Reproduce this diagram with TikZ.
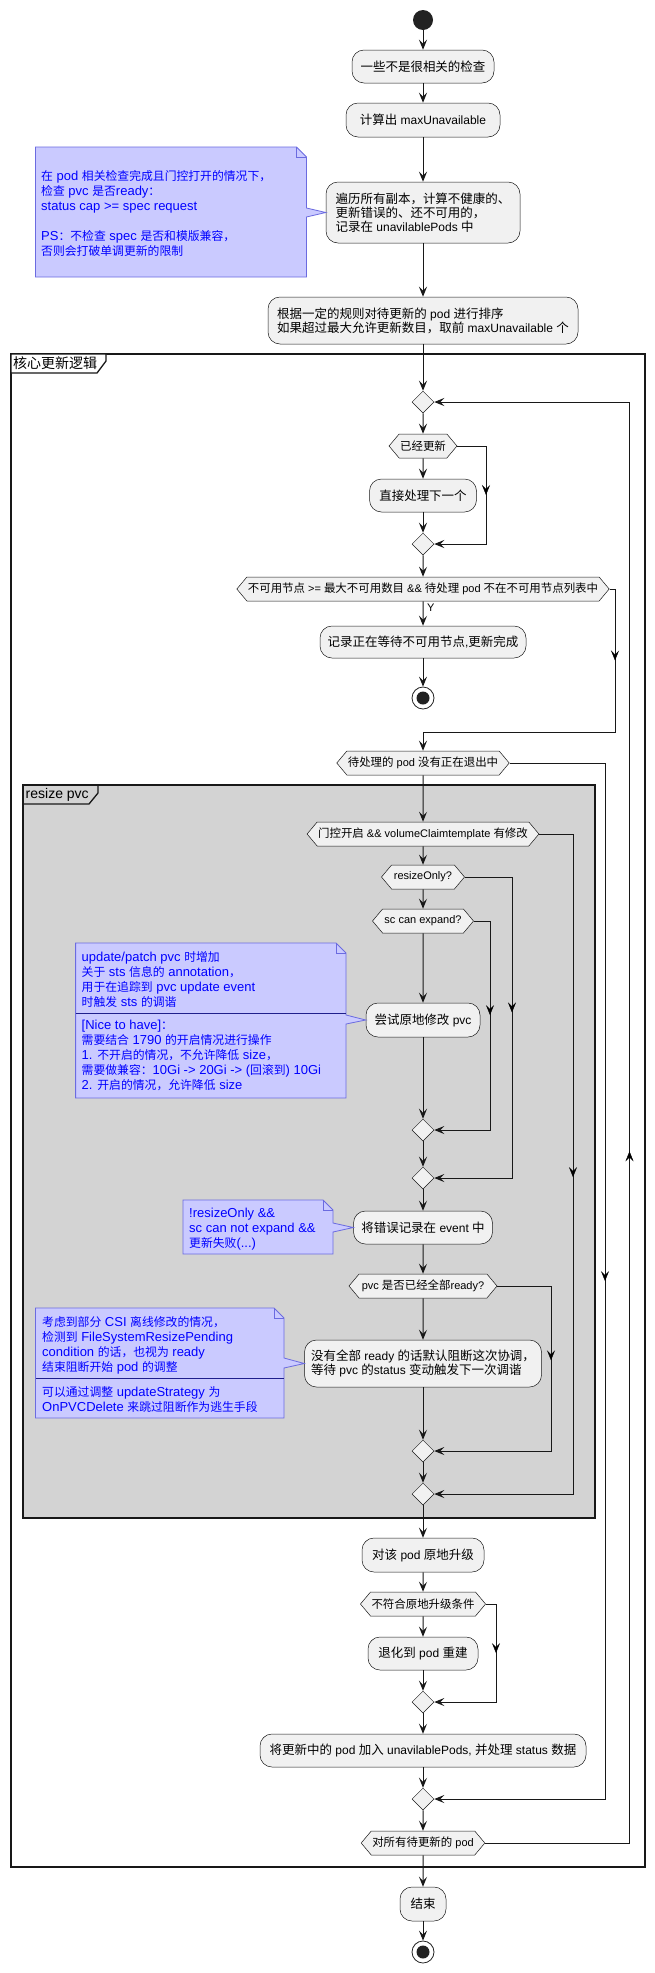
\documentclass[tikz,border=0pt]{standalone}
\usepackage{fontspec}
\setmainfont{Liberation Sans}
\newfontfamily\cjkA{Noto Sans CJK SC}[Scale=1.04]
\newfontfamily\cjkN{Noto Sans CJK SC}[Scale=0.91]
\newfontfamily\cjkT{Noto Sans CJK SC}
\let\cjkcur\cjkA
\chardef\cjkcls=77
\makeatletter
\@tempcnta="2E80
\loop\XeTeXcharclass\@tempcnta=\cjkcls
\ifnum\@tempcnta<"9FFF \advance\@tempcnta\@ne\repeat
\@tempcnta="FF00
\loop\XeTeXcharclass\@tempcnta=\cjkcls
\ifnum\@tempcnta<"FFEF \advance\@tempcnta\@ne\repeat
\makeatother
\XeTeXinterchartoks 0 \cjkcls = {\cjkcur}
\XeTeXinterchartoks 1 \cjkcls = {\cjkcur}
\XeTeXinterchartoks 2 \cjkcls = {\cjkcur}
\XeTeXinterchartoks 3 \cjkcls = {\cjkcur}
\XeTeXinterchartoks 4095 \cjkcls = {\cjkcur}
\XeTeXinterchartoks \cjkcls 0 = {\rmfamily}
\XeTeXinterchartoks \cjkcls 1 = {\rmfamily}
\XeTeXinterchartoks \cjkcls 2 = {\rmfamily}
\XeTeXinterchartoks \cjkcls 3 = {\rmfamily}
\XeTeXinterchartoks \cjkcls 4095 = {\rmfamily}
\XeTeXinterchartokenstate=1
\usetikzlibrary{arrows.meta,shapes.geometric,shapes.symbols,decorations.markings,calc}
\definecolor{lineC}{HTML}{181818}
\definecolor{boxC}{HTML}{F1F1F1}
\definecolor{noteC}{HTML}{CACAFF}
\definecolor{noteB}{HTML}{6B6BE0}
\definecolor{noteT}{HTML}{0000FF}
\definecolor{noteS}{HTML}{1E1E8C}
\definecolor{grpC}{HTML}{D3D3D3}
\definecolor{dotC}{HTML}{222222}
\newcommand\actfont{\fontsize{12}{14}\selectfont\let\cjkcur\cjkA}
\newcommand\hexfont{\fontsize{11}{13}\selectfont\let\cjkcur\cjkA}
\newcommand\notefont{\fontsize{13}{15}\selectfont\let\cjkcur\cjkN}
\newcommand\titlefont{\fontsize{14}{16}\selectfont\let\cjkcur\cjkT}
\tikzset{
  act/.style={rectangle, rounded corners=12pt, draw=lineC, fill=boxC, line width=0.5pt,
    inner xsep=6pt, inner ysep=3pt, align=left, font=\actfont},
  hexa/.style={shape=signal, signal to=west and east, signal pointer angle=100,
    draw=lineC, fill=boxC, line width=0.5pt, minimum height=24pt,
    inner xsep=1pt, inner ysep=0pt, font=\hexfont},
  merge/.style={diamond, draw=lineC, fill=boxC, line width=0.5pt,
    minimum width=22pt, minimum height=22pt, inner sep=0pt},
  tipA/.tip={Stealth[length=10pt,width=8pt,inset=4pt]},
  flow/.style={draw=lineC, line width=1pt, -tipA},
  midtip/.style={postaction={decorate}, decoration={markings,
    mark=at position #1 with {\arrow{tipA}}}},
  midtip/.default=0.5,
  wire/.style={draw=lineC, line width=1pt},
  frame/.style={draw=lineC, line width=1.3pt},
  grouptitle/.style={anchor=west, inner sep=0pt, font=\titlefont},
  notebox/.style={draw=noteB, fill=noteC, line width=0.8pt, line join=miter},
  notefold/.style={draw=noteB, line width=0.8pt},
  notesep/.style={draw=noteS, line width=1pt},
  notetext/.style={anchor=north west, inner sep=0pt, align=left, text=noteT, font=\notefont},
  startdot/.style={circle, fill=dotC, minimum size=20pt, inner sep=0pt},
  enddot/.style={circle, draw=dotC, fill=white, line width=0.8pt, minimum size=22pt, inner sep=0pt,
    path picture={\fill[dotC] (path picture bounding box.center) circle (6.5pt);}},
  ylabel/.style={anchor=west, inner sep=0pt, font=\hexfont},
}
\begin{document}
\begin{tikzpicture}[x=1pt,y=-1pt]
\fill[white] (0,0) rectangle (655,1973);
\useasboundingbox (0,0) rectangle (655,1973);

% ---------- group frames ----------
\draw[frame] (11,354) rectangle (645,1867);
\draw[frame, fill=white] (11,354) -- (106,354) -- (106,361) -- (97,373) -- (11,373) -- cycle;
\node[grouptitle] (gt1) at (13,363.5) {核心更新逻辑};

\draw[frame, fill=grpC] (23,785) rectangle (595,1518);
\draw[frame] (23,785) -- (98,785) -- (98,793) -- (89,804) -- (23,804);
\node[grouptitle] (gt2) at (25.5,794.5) {resize pvc};

% ---------- nodes ----------
\node[startdot] (S) at (423,20) {};
\node[act, minimum width=142pt, minimum height=33pt] (B1) at (423,66.5) {一些不是很相关的检查};
\node[act, minimum width=154pt, minimum height=34pt] (B2) at (423,120) {计算出 maxUnavailable};
\node[act, minimum width=194pt, minimum height=61pt] (B3) at (423,212.5)
  {遍历所有副本，计算不健康的、\\更新错误的、还不可用的，\\记录在 unavilablePods 中};
\node[act, minimum width=310pt, minimum height=47pt] (B4) at (423,320.5)
  {根据一定的规则对待更新的 pod 进行排序\\如果超过最大允许更新数目，取前 maxUnavailable 个};

\node[merge] (D0) at (423,402) {};
\node[hexa, minimum width=66pt] (H1) at (423,446) {已经更新};
\node[act, minimum width=107pt, minimum height=33pt] (B5) at (423,495.5) {直接处理下一个};
\node[merge] (D1) at (423,544) {};
\node[hexa, minimum width=362pt] (H2) at (423,589) {不可用节点 >= 最大不可用数目 \&\& 待处理 pod 不在不可用节点列表中};
\node[ylabel] (YL) at (427,608) {Y};
\node[act, minimum width=206pt, minimum height=32pt] (B6) at (423,642) {记录正在等待不可用节点,更新完成};
\node[enddot] (E1) at (423,698) {};

\node[hexa, minimum width=168pt] (H3) at (423,763) {待处理的 pod 没有正在退出中};
\node[hexa, minimum width=226pt] (H4) at (423,834) {门控开启 \&\& volumeClaimtemplate 有修改};
\node[hexa, minimum width=83pt] (H5) at (423,877) {resizeOnly?};
\node[hexa, minimum width=101pt] (H6) at (423,921) {sc can expand?};
\node[act, minimum width=114pt, minimum height=34pt] (B7) at (423,1020) {尝试原地修改 pvc};
\node[merge] (D2) at (423,1130) {};
\node[merge] (D3) at (423,1178) {};
\node[act, minimum width=139pt, minimum height=33pt] (B8) at (423,1227.5) {将错误记录在 event 中};
\node[hexa, minimum width=148pt] (H7) at (423,1286) {pvc 是否已经全部ready?};
\node[act, minimum width=237pt, minimum height=47pt] (B9) at (423,1363.5)
  {没有全部 ready 的话默认阻断这次协调，\\等待 pvc 的status 变动触发下一次调谐};
\node[merge] (D4) at (423,1451) {};
\node[merge] (D5) at (423,1494) {};

\node[act, minimum width=122pt, minimum height=34pt] (B10) at (423,1555) {对该 pod 原地升级};
\node[hexa, minimum width=122pt] (H8) at (423,1604) {不符合原地升级条件};
\node[act, minimum width=110pt, minimum height=33pt] (B11) at (423,1653.5) {退化到 pod 重建};
\node[merge] (D6) at (423,1702) {};
\node[act, minimum width=326pt, minimum height=33pt] (B12) at (423,1750.5) {将更新中的 pod 加入 unavilablePods, 并处理 status 数据};
\node[merge] (D7) at (423,1799) {};
\node[hexa, minimum width=122pt] (H9) at (423,1843) {对所有待更新的 pod};
\node[act, minimum width=46pt, minimum height=34pt] (B13) at (423,1904) {结束};
\node[enddot] (E2) at (423,1952) {};

% ---------- notes ----------
\draw[notebox] (35.5,147) -- (296.5,147) -- (306.5,157) -- (306.5,208) -- (B3.west) -- (306.5,217) -- (306.5,277) -- (35.5,277) -- cycle;
\draw[notefold] (296.5,147) -- (296.5,157) -- (306.5,157);
\node[notetext] (N1) at (41,169.5) {\rule{0pt}{11pt}在 pod 相关检查完成且门控打开的情况下，\\检查 pvc 是否ready：\\status cap >= spec request\\[15pt]PS：不检查 spec 是否和模版兼容，\\否则会打破单调更新的限制};

\draw[notebox] (75.6,943) -- (336,943) -- (346,953) -- (346,1015) -- (B7.west) -- (346,1024) -- (346,1098) -- (75.6,1098) -- cycle;
\draw[notefold] (336,943) -- (336,953) -- (346,953);
\draw[notesep] (75.6,1013) -- (346,1013);
\node[notetext] (N2a) at (81.5,950.5) {\rule{0pt}{11pt}update/patch pvc 时增加\\关于 sts 信息的 annotation，\\用于在追踪到 pvc update event\\时触发 sts 的调谐};
\node[notetext] (N2b) at (81.5,1018.5) {\rule{0pt}{11pt}{[}Nice to have{]}：\\需要结合 1790 的开启情况进行操作\\1. 不开启的情况，不允许降低 size，\\需要做兼容：10Gi -> 20Gi -> (回滚到) 10Gi\\2. 开启的情况，允许降低 size};

\draw[notebox] (183,1200) -- (323,1200) -- (333,1210) -- (333,1223) -- (B8.west) -- (333,1232) -- (333,1254) -- (183,1254) -- cycle;
\draw[notefold] (323,1200) -- (323,1210) -- (333,1210);
\node[notetext] (N3) at (189,1206.5) {\rule{0pt}{11pt}!resizeOnly \&\&\\sc can not expand \&\&\\更新失败(...)};

\draw[notebox] (35.5,1308) -- (274,1308) -- (284,1318) -- (284,1358) -- (B9.west) -- (284,1368) -- (284,1418) -- (35.5,1418) -- cycle;
\draw[notefold] (274,1308) -- (274,1318) -- (284,1318);
\draw[notesep] (35.5,1378) -- (284,1378);
\node[notetext] (N4a) at (42,1315.5) {\rule{0pt}{11pt}考虑到部分 CSI 离线修改的情况，\\检测到 FileSystemResizePending\\condition 的话，也视为 ready\\结束阻断开始 pod 的调整};
\node[notetext] (N4b) at (42,1385.5) {\rule{0pt}{11pt}可以通过调整 updateStrategy 为\\OnPVCDelete 来跳过阻断作为逃生手段};

% ---------- straight connectors ----------
\draw[flow] (S) -- (B1);
\draw[flow] (B1) -- (B2);
\draw[flow] (B2) -- (B3);
\draw[flow] (B3) -- (B4);
\draw[flow] (B4) -- (D0);
\draw[flow] (D0) -- (H1);
\draw[flow] (H1) -- (B5);
\draw[flow] (B5) -- (D1);
\draw[flow] (D1) -- (H2);
\draw[flow] (H2) -- (B6);
\draw[flow] (B6) -- (E1);
\draw[flow] (H3) -- (H4);
\draw[flow] (H4) -- (H5);
\draw[flow] (H5) -- (H6);
\draw[flow] (H6) -- (B7);
\draw[flow] (B7) -- (D2);
\draw[flow] (D2) -- (D3);
\draw[flow] (D3) -- (B8);
\draw[flow] (B8) -- (H7);
\draw[flow] (H7) -- (B9);
\draw[flow] (B9) -- (D4);
\draw[flow] (D4) -- (D5);
\draw[flow] (D5) -- (B10);
\draw[flow] (B10) -- (H8);
\draw[flow] (H8) -- (B11);
\draw[flow] (B11) -- (D6);
\draw[flow] (D6) -- (B12);
\draw[flow] (B12) -- (D7);
\draw[flow] (D7) -- (H9);
\draw[flow] (H9) -- (B13);
\draw[flow] (B13) -- (E2);

% ---------- branch connectors ----------
\coordinate (k1) at (486,0);
\coordinate (k2) at (615,0);
\coordinate (j2) at (0,732);
\coordinate (k3) at (605,0);
\coordinate (k4) at (573,0);
\coordinate (k5) at (512,0);
\coordinate (k6) at (490,0);
\coordinate (k7) at (551,0);
\coordinate (k8) at (496,0);
\coordinate (k9) at (629.5,0);

\draw[flow] (H1.east) -- (H1.east -| k1) -- (D1.east -| k1) -- (D1.east);
\path[midtip] (H1.east -| k1) -- (D1.east -| k1);

\draw[flow] (H2.east) -- (H2.east -| k2) -- (k2 |- j2) -- (H3.north |- j2) -- (H3.north);
\path[midtip] (H2.east -| k2) -- (k2 |- j2);

\draw[flow] (H3.east) -- (H3.east -| k3) -- (D7.east -| k3) -- (D7.east);
\path[midtip] (H3.east -| k3) -- (D7.east -| k3);

\draw[flow] (H4.east) -- (H4.east -| k4) -- (D5.east -| k4) -- (D5.east);
\path[midtip=0.52] (H4.east -| k4) -- (D5.east -| k4);

\draw[flow] (H5.east) -- (H5.east -| k5) -- (D3.east -| k5) -- (D3.east);
\path[midtip=0.45] (H5.east -| k5) -- (D3.east -| k5);

\draw[flow] (H6.east) -- (H6.east -| k6) -- (D2.east -| k6) -- (D2.east);
\path[midtip=0.45] (H6.east -| k6) -- (D2.east -| k6);

\draw[flow] (H7.east) -- (H7.east -| k7) -- (D4.east -| k7) -- (D4.east);
\path[midtip=0.45] (H7.east -| k7) -- (D4.east -| k7);

\draw[flow] (H8.east) -- (H8.east -| k8) -- (D6.east -| k8) -- (D6.east);
\path[midtip] (H8.east -| k8) -- (D6.east -| k8);

\draw[flow] (H9.east) -- (H9.east -| k9) -- (D0.east -| k9) -- (D0.east);
\path[midtip=0.48] (H9.east -| k9) -- (D0.east -| k9);
\end{tikzpicture}
\end{document}
